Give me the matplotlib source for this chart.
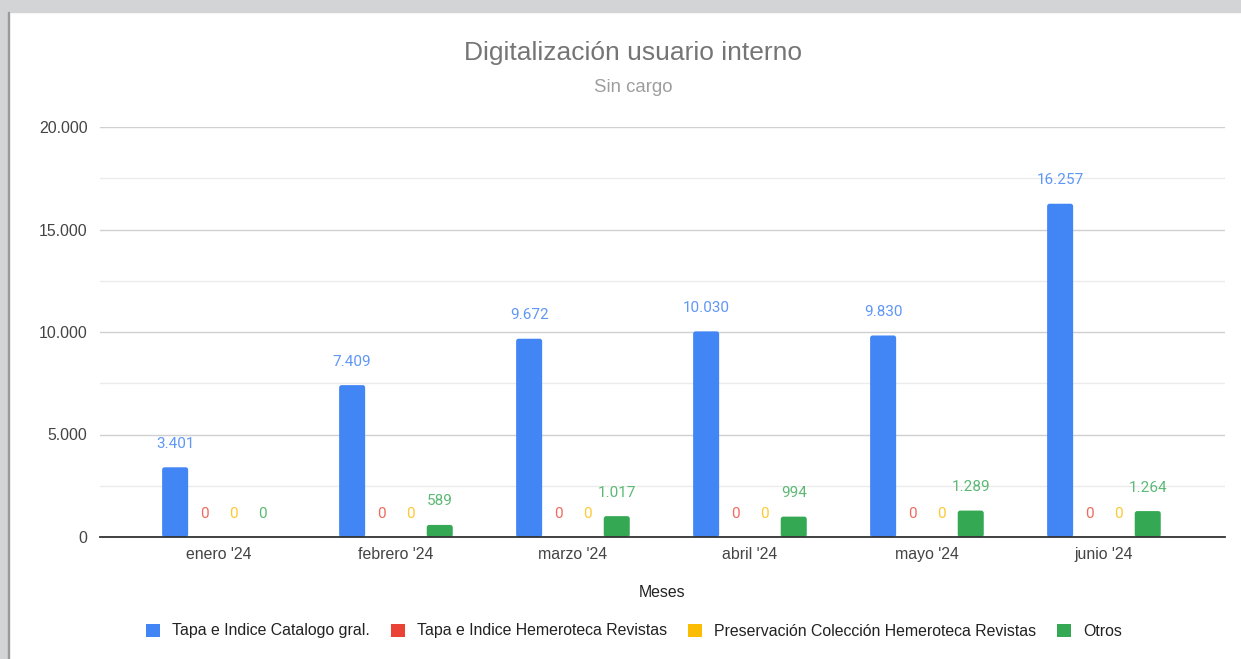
import matplotlib
matplotlib.use("Agg")
import matplotlib.pyplot as plt
from matplotlib.patches import Rectangle, FancyBboxPatch, Patch
from matplotlib.ticker import FixedLocator, FuncFormatter
import numpy as np

plt.rcParams['font.family'] = ['Liberation Sans', 'DejaVu Sans']

months = ["enero '24", "febrero '24", "marzo '24", "abril '24", "mayo '24", "junio '24"]
series_names = ["Tapa e Indice Catalogo gral.", "Tapa e Indice Hemeroteca Revistas",
                "Preservación Colección Hemeroteca Revistas", "Otros"]
catalogo = [3401, 7409, 9672, 10030, 9830, 16257]
hemeroteca = [0, 0, 0, 0, 0, 0]
preservacion = [0, 0, 0, 0, 0, 0]
otros = [0, 589, 1017, 994, 1289, 1264]
y_ticks = [0, 5000, 10000, 15000, 20000]

colors = ["#4285f4", "#ea4335", "#fbbc04", "#34a853"]
label_colors = ["#5f97f6", "#ee6a5f", "#fcc934", "#5bb974"]


def fmt(v):
    return f"{int(round(v)):,}".replace(",", ".")


fig = plt.figure(figsize=(12.41, 6.59), dpi=100)
W, H = 1241, 659

# window frame around the chart
fig.patches.append(Rectangle((0, 1 - 12 / H), 1, 12 / H, transform=fig.transFigure,
                             color="#d3d4d6", zorder=0))
fig.patches.append(Rectangle((0, 0), 8 / W, 1, transform=fig.transFigure,
                             color="#d3d4d6", zorder=0))
fig.patches.append(Rectangle((8 / W, 0), 1.2 / W, 1 - 12 / H, transform=fig.transFigure,
                             color="#9a9a9a", zorder=0))

ax_w_px, ax_h_px = 1125, 410
ax = fig.add_axes([100 / W, 122 / H, ax_w_px / W, ax_h_px / H])
ax.set_facecolor("none")

xlim = (-0.672, 5.684)
ylim = (0, 20000)
ax.set_xlim(*xlim)
ax.set_ylim(*ylim)

# rounding of bar corners (~2.5 px), expressed in data units
x_per_px = (xlim[1] - xlim[0]) / ax_w_px
y_per_px = (ylim[1] - ylim[0]) / ax_h_px
radius = 2.5 * x_per_px
aspect = y_per_px / x_per_px

data = [catalogo, hemeroteca, preservacion, otros]
x = np.arange(len(months))
step = 0.165
width = 0.147
for i, (vals, c, lc, name) in enumerate(zip(data, colors, label_colors, series_names)):
    pos = x + (i - 1.5) * step
    bars = ax.bar(pos, vals, width=width, color=c, zorder=3)
    for rect in bars:
        h = rect.get_height()
        if h <= 0:
            continue
        rect.set_visible(False)
        ax.add_patch(FancyBboxPatch((rect.get_x(), rect.get_y()), rect.get_width(), h,
                                    boxstyle=f"round,pad=0,rounding_size={radius}",
                                    mutation_aspect=aspect, facecolor=c,
                                    edgecolor="none", zorder=3))
    for px, v in zip(pos, vals):
        ax.annotate(fmt(v), (px, v), xytext=(0, 14), textcoords="offset points",
                    ha="center", va="baseline", fontsize=11, color=lc, zorder=4,
                    family=["Roboto", "DejaVu Sans"])

ax.yaxis.set_major_locator(FixedLocator(y_ticks))
ax.yaxis.set_minor_locator(FixedLocator([2500, 7500, 12500, 17500]))
ax.yaxis.set_major_formatter(FuncFormatter(lambda v, p: fmt(v)))
ax.grid(axis="y", which="major", color="#d0d0d0", linewidth=1, zorder=0)
ax.grid(axis="y", which="minor", color="#ebebeb", linewidth=1, zorder=0)
ax.set_xticks(x)
ax.set_xticklabels(months)
ax.tick_params(axis="both", which="both", length=0, labelsize=11.4, labelcolor="#444444")
ax.tick_params(axis="y", pad=9)
ax.tick_params(axis="x", pad=7)
for s in ["top", "right", "left"]:
    ax.spines[s].set_visible(False)
ax.spines["bottom"].set_color("#333333")
ax.spines["bottom"].set_linewidth(1.3)
ax.spines["bottom"].set_zorder(5)

ax.set_xlabel("Meses", fontsize=11.4, color="#222222", labelpad=17)

fig.text(633 / W, 1 - 53 / H, "Digitalización usuario interno", ha="center", va="center",
         fontsize=19, color="#757575")
fig.text(633 / W, 1 - 87 / H, "Sin cargo", ha="center", va="center",
         fontsize=13.4, color="#9e9e9e")

handles = [Patch(facecolor=c, edgecolor="none") for c in colors]
fig.legend(handles, series_names, loc="center", bbox_to_anchor=(634 / W, 1 - 631 / H), ncol=4,
           frameon=False, fontsize=11.4, handlelength=0.89, handleheight=0.89,
           handletextpad=0.76, columnspacing=1.33, labelcolor="#222222")

fig.savefig("out.png", dpi=100)
